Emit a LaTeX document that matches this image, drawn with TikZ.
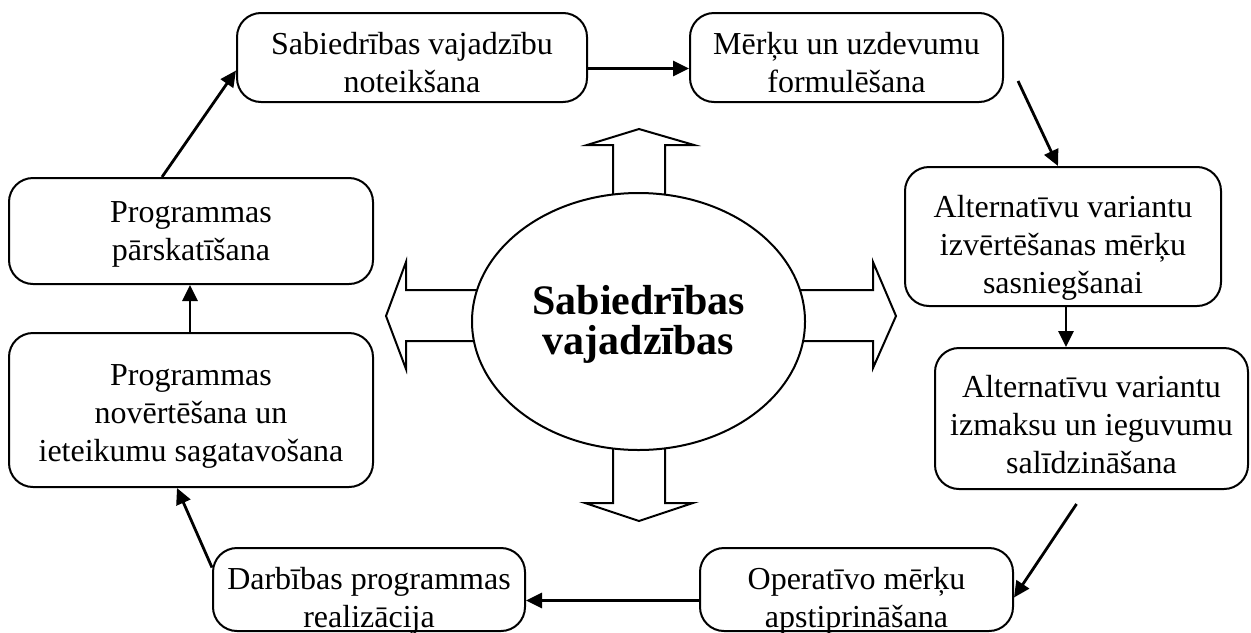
\documentclass[tikz,border=0pt]{standalone}
\usepackage{fontspec}
\setmainfont{Liberation Serif}
\usetikzlibrary{arrows.meta,shapes.geometric,calc}
\tikzset{
  box/.style={draw, line width=1pt, rounded corners=12pt, fill=white, inner sep=0pt},
  txt/.style={align=center, inner sep=0pt, font=\fontsize{16}{19}\selectfont},
  conn/.style={line width=1.4pt, -{Triangle[length=8pt,width=7.5pt]}},
  blk/.style={draw, line width=1pt, fill=white, line join=miter},
}
\begin{document}
\begin{tikzpicture}[x=0.5pt,y=-0.5pt]
\useasboundingbox (0,0) rectangle (1251,632);
% boxes
\node[box, minimum width=175pt, minimum height=44.5pt] (b1) at (412,57.5) {};
\node[box, minimum width=156.5pt, minimum height=44.5pt] (b2) at (846.5,57.5) {};
\node[box, minimum width=158pt, minimum height=69.5pt] (b3) at (1063,236.5) {};
\node[box, minimum width=156.5pt, minimum height=70.5pt] (b4) at (1091.5,418.5) {};
\node[box, minimum width=156.5pt, minimum height=41.5pt] (b5) at (856.5,589.5) {};
\node[box, minimum width=156pt, minimum height=41.5pt] (b6) at (369,589.5) {};
\node[box, minimum width=182pt, minimum height=77pt] (b7) at (191,410) {};
\node[box, minimum width=182pt, minimum height=53pt] (b8) at (191,231) {};
% texts
\node[txt] (t1) at ($(b1.center)+(0,5)$) {Sabiedrības vajadzību\\noteikšana};
\node[txt] (t2) at ($(b2.center)+(0,5)$) {Mērķu un uzdevumu\\formulēšana};
\node[txt] (t3) at ($(b3.center)+(0,11)$) {Alternatīvu variantu\\izvērtēšanas mērķu\\sasniegšanai};
\node[txt] (t4) at ($(b4.center)+(0,6)$) {Alternatīvu variantu\\izmaksu un ieguvumu\\salīdzināšana};
\node[txt] (t5) at ($(b5.center)+(0,11)$) {Operatīvo mērķu\\apstiprināšana};
\node[txt] (t6) at ($(b6.center)+(0,11)$) {Darbības programmas\\realizācija};
\node[txt] (t7) at ($(b7.center)+(0,6)$) {Programmas\\novērtēšana un\\ieteikumu sagatavošana};
\node[txt] (t8) at ($(b8.center)+(0,3)$) {Programmas\\pārskatīšana};
% block arrows
\draw[blk] (613,200) -- (613,145) -- (587,145) -- (639,129) -- (694,145) -- (665,145) -- (665,200);
\draw[blk] (613,440) -- (613,503) -- (585,503) -- (639,521) -- (693,503) -- (665,503) -- (665,440);
\draw[blk] (480,290) -- (406,290) -- (406,262) -- (386,316) -- (406,369) -- (406,341) -- (480,341);
\draw[blk] (797,290) -- (873,290) -- (873,262) -- (896,316) -- (873,368) -- (873,341) -- (797,341);
% ellipse
\node[ellipse, draw, line width=1pt, fill=white, minimum width=166.5pt, minimum height=128.5pt, inner sep=0pt] (e) at (638.5,321.5) {};
\node[align=center, inner sep=0pt, font=\bfseries\fontsize{21}{20}\selectfont] (et) at ($(e.center)+(0,3)$) {Sabiedrības\\vajadzības};
% connectors
\coordinate (s3) at ($(b3.south)+(3,0)$);
\draw[conn] ($(b1.east)+(0,11)$) -- ($(b2.west)+(0,11)$);
\draw[conn] ($(b2.south east)+(14,-22)$) -- ($(b3.north)+(-5,0)$);
\draw[conn] (s3) -- (s3 |- b4.north);
\draw[conn] ($(b4.south)+(-15,14)$) -- ($(b5.east)+(0,8)$);
\draw[conn] ($(b5.west)+(0,11)$) -- ($(b6.east)+(0,11)$);
\draw[conn] ($(b6.west)+(0,-22)$) -- ($(b7.south)+(-14,0)$);
\draw[conn] ($(b7.north)+(-1,0)$) -- ($(b8.south)+(-1,0)$);
\draw[conn] ($(b8.north)+(-29,0)$) -- ($(b1.west)+(0,13)$);
\end{tikzpicture}
\end{document}
